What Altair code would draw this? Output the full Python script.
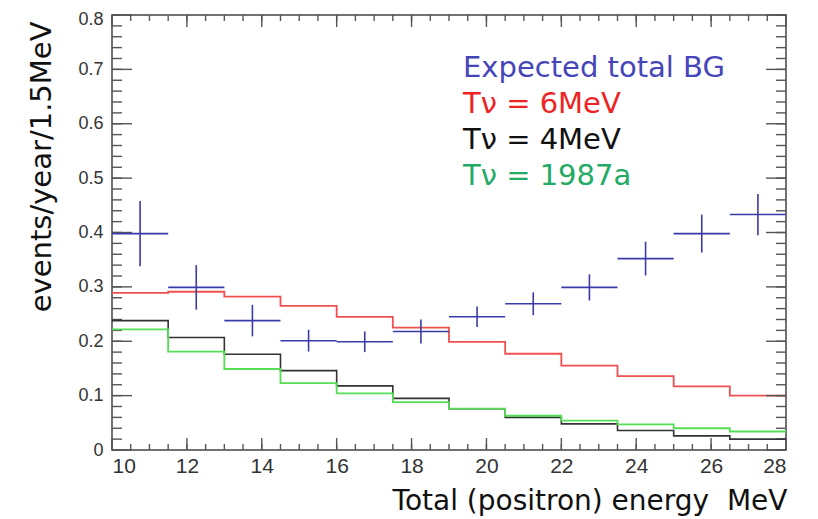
import altair as alt
import pandas as pd
import numpy as np

# ---- data ----
edges = [10, 11.5, 13, 14.5, 16, 17.5, 19, 20.5, 22, 23.5, 25, 26.5, 28]
bg = [0.398, 0.299, 0.238, 0.201, 0.199, 0.218, 0.245, 0.269, 0.299, 0.352, 0.398, 0.433]
bg_err = [0.060, 0.041, 0.029, 0.020, 0.019, 0.022, 0.019, 0.021, 0.024, 0.031, 0.035, 0.038]
t6 = [0.289, 0.291, 0.282, 0.265, 0.245, 0.225, 0.199, 0.177, 0.155, 0.136, 0.117, 0.100]
t4 = [0.238, 0.207, 0.176, 0.146, 0.118, 0.095, 0.076, 0.060, 0.048, 0.036, 0.026, 0.020]
t1987 = [0.222, 0.181, 0.149, 0.123, 0.104, 0.088, 0.076, 0.063, 0.054, 0.047, 0.040, 0.034]

legend_texts = ["Expected total BG", "T\u03bd = 6MeV", "T\u03bd = 4MeV", "T\u03bd = 1987a"]
legend_colors = ["#4646b8", "#ee2424", "#111111", "#22aa66"]

x_major = [10, 12, 14, 16, 18, 20, 22, 24, 26, 28]
x_minor = [round(v, 1) for v in np.arange(10, 28.01, 0.5)]
y_major = [0, 0.1, 0.2, 0.3, 0.4, 0.5, 0.6, 0.7, 0.8]
y_minor = [round(v, 2) for v in np.arange(0, 0.801, 0.02)]

x_title = "Total (positron) energy \u00a0MeV"
y_title = "events/year/1.5MeV"

W, H = 674, 435

# ---- tables ----
def steps(vals):
    rows = []
    for i, v in enumerate(vals):
        rows.append({"x": edges[i], "y": v, "i": 2 * i})
        rows.append({"x": edges[i + 1], "y": v, "i": 2 * i + 1})
    return pd.DataFrame(rows)

bg_df = pd.DataFrame({
    "x0": edges[:-1], "x1": edges[1:],
    "xc": [(a + b) / 2 for a, b in zip(edges[:-1], edges[1:])],
    "v": bg,
    "lo": [v - e for v, e in zip(bg, bg_err)],
    "hi": [v + e for v, e in zip(bg, bg_err)],
})

xscale = alt.Scale(domain=[10, 28], nice=False, zero=False)
yscale = alt.Scale(domain=[0, 0.8], nice=False)

TICK = "#555555"
LAB = "#333333"

ax_x = alt.Axis(values=x_major, format="d", tickSize=0,
                labelFont="Liberation Sans", labelFontSize=21, labelColor=LAB,
                labelPadding=5, domain=False, grid=False,
                title=x_title, titleFont="DejaVu Sans", titleFontSize=28,
                titleFontWeight="normal", titleColor="#111111",
                titleAnchor="end", titleAlign="right", titleX=W + 1, titleY=59,
                titleBaseline="alphabetic")
ax_y = alt.Axis(values=y_major, tickSize=0,
                labelExpr="datum.value == 0 ? '0' : format(datum.value, '.1f')",
                labelOffset={"condition": {"test": "datum.value >= 0.79", "value": 4},
                             "value": 0},
                labelFont="Liberation Sans", labelFontSize=18, labelColor=LAB,
                labelPadding=9, domain=False, grid=False,
                title=y_title, titleFont="DejaVu Sans", titleFontSize=29,
                titleFontWeight="normal", titleColor="#111111",
                titleAngle=-90, titleAlign="right", titleX=-71, titleY=6,
                titleBaseline="middle")

X = lambda f: alt.X(f, scale=xscale, axis=ax_x)
Y = lambda f: alt.Y(f, scale=yscale, axis=ax_y)

red = alt.Chart(steps(t6)).mark_line(color="#f05050", strokeWidth=1.8).encode(
    x=X("x:Q"), y=Y("y:Q"), order="i:Q")

black = alt.Chart(steps(t4)).mark_line(color="#333333", strokeWidth=1.6).encode(
    x=X("x:Q"), y=Y("y:Q"), order="i:Q")

green = alt.Chart(steps(t1987)).mark_line(color="#55dd55", strokeWidth=1.8).encode(
    x=X("x:Q"), y=Y("y:Q"), order="i:Q")

hbar = alt.Chart(bg_df).mark_rule(color="#3a3aaa", strokeWidth=1.6).encode(
    x=X("x0:Q"), x2="x1:Q", y=Y("v:Q"))

vbar = alt.Chart(bg_df).mark_rule(color="#3a3aaa", strokeWidth=1.6).encode(
    x=X("xc:Q"), y=Y("lo:Q"), y2="hi:Q")

# ---- inward ticks on all four sides ----
def xticks(vals, size):
    d = pd.DataFrame({"v": vals})
    m = alt.Chart(d).mark_rule(color=TICK, strokeWidth=1.4)
    return [
        m.encode(x=X("v:Q"), y=alt.value(H - size), y2=alt.value(H)),
        m.encode(x=X("v:Q"), y=alt.value(0), y2=alt.value(size)),
    ]

def yticks(vals, size):
    d = pd.DataFrame({"v": vals})
    m = alt.Chart(d).mark_rule(color=TICK, strokeWidth=1.4)
    return [
        m.encode(y=Y("v:Q"), x=alt.value(0), x2=alt.value(size)),
        m.encode(y=Y("v:Q"), x=alt.value(W - size), x2=alt.value(W)),
    ]

ticks = xticks(x_major, 12) + xticks(x_minor, 6) + yticks(y_major, 20) + yticks(y_minor, 10)

texts = []
for k, (t, c) in enumerate(zip(legend_texts, legend_colors)):
    texts.append(
        alt.Chart(pd.DataFrame({"t": [t]})).mark_text(
            font="DejaVu Sans", fontSize=29, color=c, align="left", baseline="middle"
        ).encode(x=alt.value(351), y=alt.value(53 + 36 * k), text="t:N")
    )

chart = alt.layer(red, *ticks, black, green, hbar, vbar, *texts).properties(
    width=W, height=H,
    autosize=alt.AutoSizeParams(type="none"),
    padding={"left": 104, "top": 7, "right": 24, "bottom": 70},
    background="white",
).configure_view(stroke="#444444", strokeWidth=1.5)

chart.save("out.html", embed_options={"renderer": "svg", "actions": False})
